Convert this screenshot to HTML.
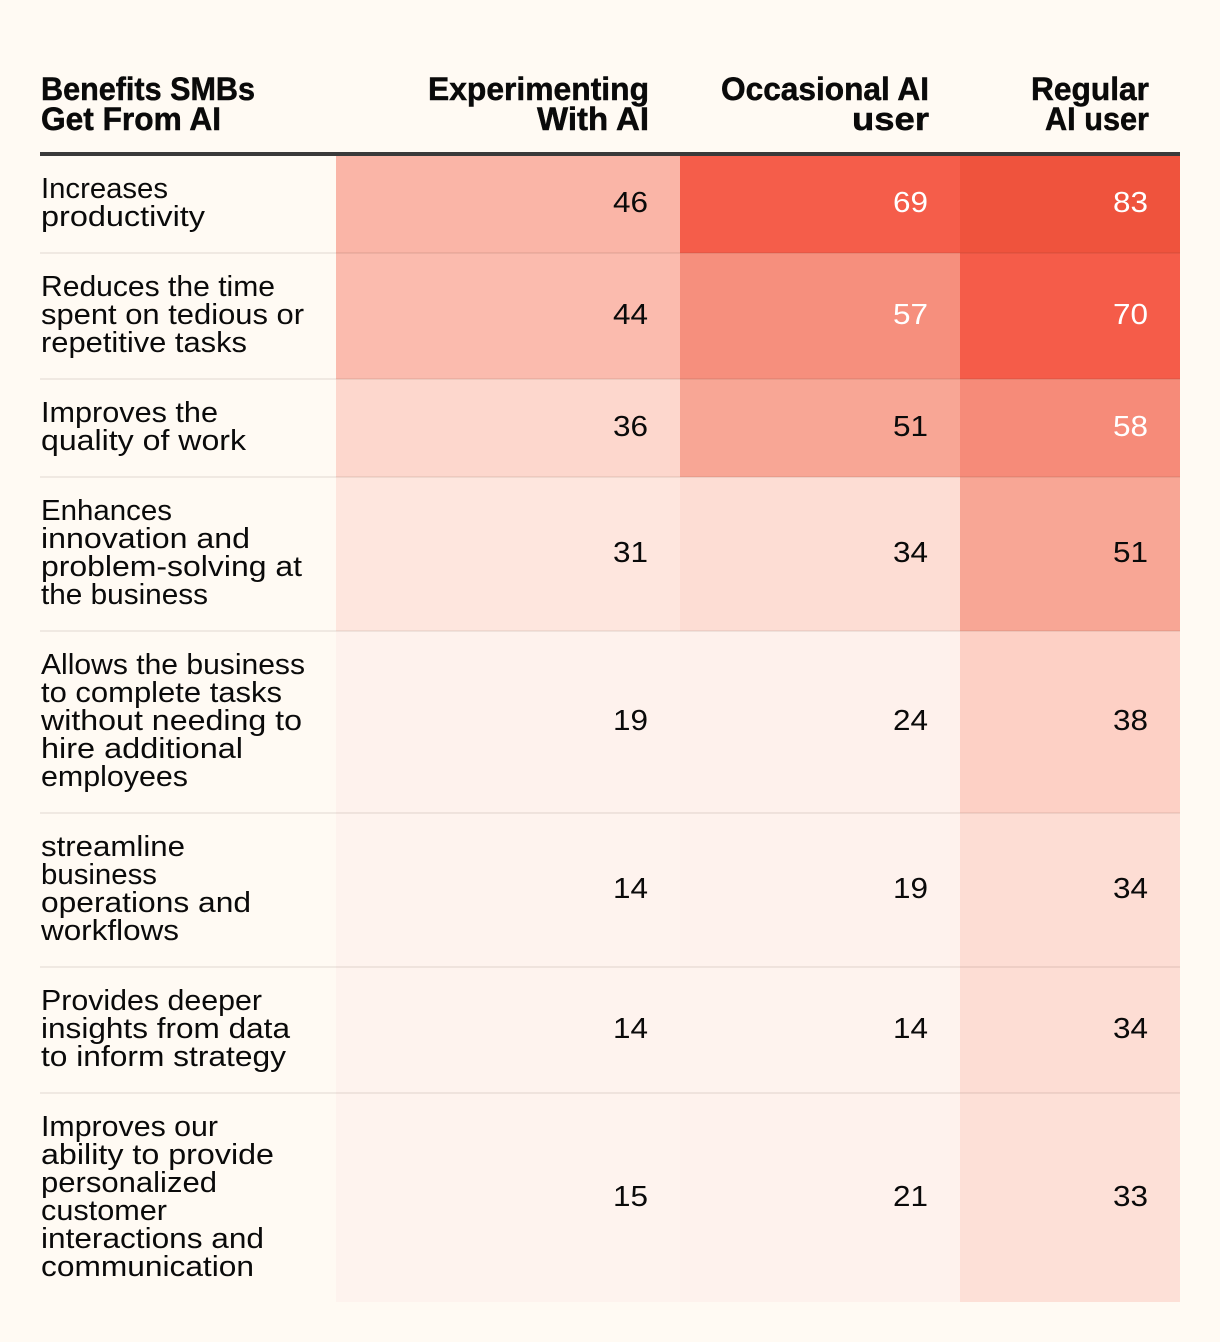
<!DOCTYPE html>
<html lang="en">
<head>
<meta charset="utf-8">
<title>Benefits SMBs Get From AI</title>
<style>
  html, body { margin: 0; padding: 0; background: #fffaf3; }
  body { width: 1220px; height: 1342px; overflow: hidden; }
  svg { display: block; }
  text { font-family: "Liberation Sans", sans-serif; }
  .head { font-size: 32px; font-weight: 700; fill: #0a0a0a; stroke: #0a0a0a; stroke-width: 0.5px; }
  .label { font-size: 29px; fill: #0a0a0a; }
  .value { font-size: 29px; }
</style>
</head>
<body>
<svg id="chart" width="1220" height="1342" viewBox="0 0 1220 1342" xmlns="http://www.w3.org/2000/svg">
  <rect x="0" y="0" width="1220" height="1342" fill="#fffaf3"/>
  <g id="cells"></g>
  <g id="separators"></g>
  <g id="labels"></g>
  <g id="values"></g>
  <g>
    <text class="head" x="41" y="100" textLength="214" lengthAdjust="spacingAndGlyphs">Benefits SMBs</text>
    <text class="head" x="41" y="130" textLength="180" lengthAdjust="spacingAndGlyphs">Get From AI</text>
    <text class="head" x="428" y="100" textLength="221" lengthAdjust="spacingAndGlyphs">Experimenting</text>
    <text class="head" x="537" y="130" textLength="112" lengthAdjust="spacingAndGlyphs">With AI</text>
    <text class="head" x="721" y="100" textLength="208" lengthAdjust="spacingAndGlyphs">Occasional AI</text>
    <text class="head" x="852" y="130" textLength="77" lengthAdjust="spacingAndGlyphs">user</text>
    <text class="head" x="1031" y="100" textLength="118" lengthAdjust="spacingAndGlyphs">Regular</text>
    <text class="head" x="1045" y="130" textLength="104" lengthAdjust="spacingAndGlyphs">AI user</text>
  </g>
  <rect x="40" y="152" width="1140" height="4" fill="#3a3a3a"/>
</svg>
<script>
const categories = [
  "Increases\nproductivity",
  "Reduces the time\nspent on tedious or\nrepetitive tasks",
  "Improves the\nquality of work",
  "Enhances\ninnovation and\nproblem-solving at\nthe business",
  "Allows the business\nto complete tasks\nwithout needing to\nhire additional\nemployees",
  "streamline\nbusiness\noperations and\nworkflows",
  "Provides deeper\ninsights from data\nto inform strategy",
  "Improves our\nability to provide\npersonalized\ncustomer\ninteractions and\ncommunication"
];
const experimenting = [46, 44, 36, 31, 19, 14, 14, 15];
const occasional = [69, 57, 51, 34, 24, 19, 14, 21];
const regular = [83, 70, 58, 51, 38, 34, 34, 33];

const seriesList = [
  { name: 'experimenting', values: experimenting, left: 336, right: 680 },
  { name: 'occasional', values: occasional, left: 680, right: 960 },
  { name: 'regular', values: regular, left: 960, right: 1180 }
];
const NS = 'http://www.w3.org/2000/svg';
const lineWidthByText = {
  "Increases": 127, "productivity": 164,
  "Reduces the time": 234, "spent on tedious or": 263, "repetitive tasks": 206,
  "Improves the": 177, "quality of work": 205,
  "Enhances": 131, "innovation and": 209, "problem-solving at": 261, "the business": 167,
  "Allows the business": 264, "to complete tasks": 241, "without needing to": 261, "hire additional": 202, "employees": 147,
  "streamline": 144, "business": 116, "operations and": 210, "workflows": 138,
  "Provides deeper": 221, "insights from data": 249, "to inform strategy": 245,
  "Improves our": 177, "ability to provide": 233, "personalized": 176, "customer": 126, "interactions and": 223, "communication": 213
};
const colorStops = [
  [14, [254, 243, 238]], [24, [254, 241, 236]], [31, [254, 230, 222]],
  [34, [253, 221, 212]], [38, [253, 208, 197]], [44, [251, 187, 174]],
  [51, [248, 166, 149]], [57, [246, 143, 125]], [69, [245, 93, 74]], [83, [239, 83, 61]]
];
function colorScale(v) {
  if (v <= colorStops[0][0]) return 'rgb(' + colorStops[0][1].join(',') + ')';
  for (let i = 1; i < colorStops.length; i++) {
    if (v <= colorStops[i][0]) {
      const a = colorStops[i - 1], b = colorStops[i];
      const t = (v - a[0]) / (b[0] - a[0]);
      const c = a[1].map(function (x, k) { return Math.round(x + (b[1][k] - x) * t); });
      return 'rgb(' + c.join(',') + ')';
    }
  }
  return 'rgb(' + colorStops[colorStops.length - 1][1].join(',') + ')';
}
const LINE = 28, PAD = 42, TOP = 155, BOTTOM = 1302;
const cellsG = document.getElementById('cells');
const sepG = document.getElementById('separators');
const labelsG = document.getElementById('labels');
const valuesG = document.getElementById('values');

let y = TOP;
categories.forEach(function (cat, r) {
  const lines = cat.split('\n');
  const h = lines.length * LINE + PAD;
  const top = y;
  const bottom = Math.min(top + h, BOTTOM);
  const mid = (top + top + h) / 2;

  seriesList.forEach(function (s) {
    const v = s.values[r];
    const rect = document.createElementNS(NS, 'rect');
    
    
    rect.setAttribute('x', s.left);
    rect.setAttribute('y', Math.max(top, 156));
    rect.setAttribute('width', s.right - s.left);
    rect.setAttribute('height', bottom - Math.max(top, 156));
    rect.setAttribute('fill', colorScale(v));
    cellsG.appendChild(rect);

    const t = document.createElementNS(NS, 'text');
    
    
    t.setAttribute('class', 'value');
    t.setAttribute('x', s.right - 32);
    t.setAttribute('y', mid + 8);
    t.setAttribute('text-anchor', 'end');
    t.setAttribute('textLength', '35');
    t.setAttribute('lengthAdjust', 'spacingAndGlyphs');
    t.setAttribute('fill', v >= 55 ? '#ffffff' : '#0a0a0a');
    t.textContent = String(v);
    valuesG.appendChild(t);
  });

  lines.forEach(function (line, i) {
    const t = document.createElementNS(NS, 'text');
    
    
    t.setAttribute('class', 'label');
    t.setAttribute('x', 41);
    t.setAttribute('y', top + 43 + i * LINE);
    t.setAttribute('textLength', lineWidthByText[line] || 200);
    t.setAttribute('lengthAdjust', 'spacingAndGlyphs');
    t.textContent = line;
    labelsG.appendChild(t);
  });

  if (r < categories.length - 1) {
    const sep = document.createElementNS(NS, 'rect');
    
    
    sep.setAttribute('x', 40);
    sep.setAttribute('y', top + h - 1);
    sep.setAttribute('width', 1140);
    sep.setAttribute('height', 2);
    sep.setAttribute('fill', 'rgba(60,40,30,0.08)');
    sepG.appendChild(sep);
  }
  y = top + h;
});
</script>
</body>
</html>
